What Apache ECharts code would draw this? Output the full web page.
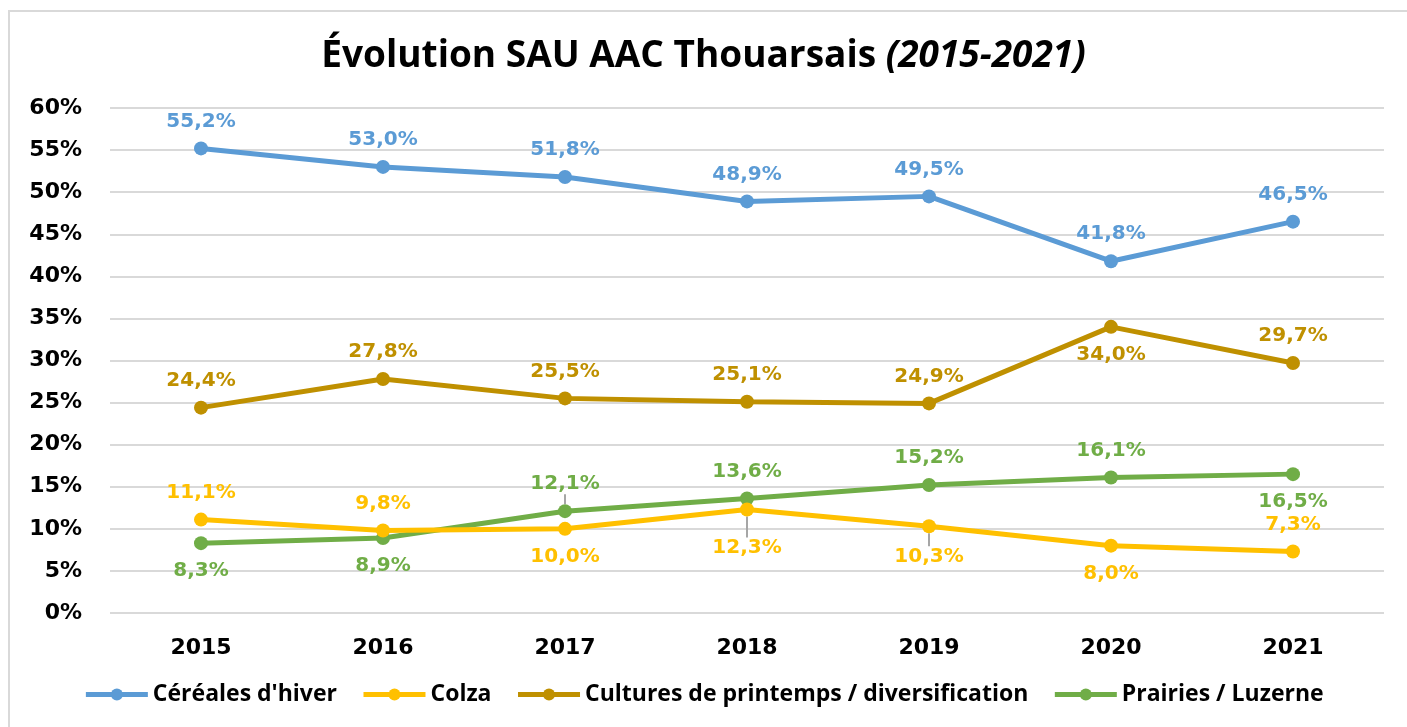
<!DOCTYPE html>
<html>
<head>
<meta charset="utf-8">
<script src="https://cdn.jsdelivr.net/npm/echarts@6/dist/echarts.min.js"></script>
<style>
  html, body { margin: 0; padding: 0; background: #fff; }
  #chart { width: 1407px; height: 727px; }
</style>
</head>
<body>
<div id="chart"></div>
<script>
// donnees
var annees = ['2015', '2016', '2017', '2018', '2019', '2020', '2021'];
var cereales = [55.2, 53.0, 51.8, 48.9, 49.5, 41.8, 46.5];
var colza = [11.1, 9.8, 10.0, 12.3, 10.3, 8.0, 7.3];
var cultures = [24.4, 27.8, 25.5, 25.1, 24.9, 34.0, 29.7];
var prairies = [8.3, 8.9, 12.1, 13.6, 15.2, 16.1, 16.5];
var yTicks = [0, 60, 5];

// position des etiquettes (t = dessus, b = dessous)
var place = [
    'ttttttt',
    'ttbbbbt',
    'tttttbt',
    'bbttttb'
];
// points avec trait de rappel : serie -> {point: decalage}
var leaders = { 1: { 3: 17, 4: 9 }, 3: { 2: -6 } };

var font = "'DejaVu Sans', Verdana, sans-serif";
var calibri = "'Liberation Sans Narrow', 'Open Sans', sans-serif";

function fmt(p) {
    return p.value.toFixed(1).replace('.', ',') + '%';
}

function makeSerie(name, data, color, idx) {
    var lead = leaders[idx] || {};
    return {
        name: name,
        type: 'line',
        data: data.map(function (v, i) {
            var top = place[idx][i] == 't';
            var isLead = lead[i] !== undefined;
            return {
                value: v,
                label: {
                    position: top ? 'top' : 'bottom',
                    distance: isLead ? 4 : (top ? 10 : 11)
                },
                labelLine: { show: isLead }
            };
        }),
        color: color,
        symbol: 'circle',
        symbolSize: 14,
        lineStyle: { width: 5, color: color },
        itemStyle: { color: color },
        label: {
            show: true,
            formatter: fmt,
            color: color,
            fontFamily: font,
            fontWeight: 'bold',
            fontSize: 20
        },
        labelLine: { show: false, lineStyle: { color: '#a6a6a6', width: 2 } },
        labelLayout: function (p) {
            if (lead[p.dataIndex] !== undefined) {
                return { dy: lead[p.dataIndex] };
            }
        },
        z: 10 - idx
    };
}

var myChart = echarts.init(document.getElementById('chart'));
var option = {
    animation: false,
    backgroundColor: '#fff',
    graphic: [{
        type: 'rect',
        shape: { x: 9, y: 11, width: 1420, height: 740 },
        style: { fill: 'none', stroke: '#d9d9d9', lineWidth: 2 },
        silent: true
    }],
    title: {
        text: '{a|Évolution SAU AAC Thouarsais }{b|(2015-2021)}',
        left: 'center',
        top: 33,
        textStyle: {
            rich: {
                a: { fontFamily: calibri, fontWeight: 'bold', fontSize: 37, color: '#000' },
                b: { fontFamily: calibri, fontWeight: 'bold', fontStyle: 'italic', fontSize: 37, color: '#000' }
            }
        }
    },
    legend: {
        bottom: 16,
        left: 'center',
        itemWidth: 62,
        itemHeight: 15,
        itemGap: 24,
        lineStyle: { width: 5 },
        textStyle: { fontFamily: calibri, fontWeight: 'bold', fontSize: 23, color: '#000' },
        data: ["Céréales d'hiver", 'Colza', 'Cultures de printemps / diversification', 'Prairies / Luzerne']
    },
    grid: { left: 110, right: 23, top: 108, bottom: 114 },
    xAxis: {
        type: 'category',
        data: annees,
        boundaryGap: true,
        axisLine: { show: false },
        axisTick: { show: false },
        axisLabel: { color: '#000', fontFamily: font, fontWeight: 'bold', fontSize: 22, margin: 24 }
    },
    yAxis: {
        type: 'value',
        min: yTicks[0],
        max: yTicks[1],
        interval: yTicks[2],
        axisLine: { show: false },
        axisTick: { show: false },
        splitLine: { lineStyle: { color: '#d9d9d9', width: 2 } },
        axisLabel: { color: '#000', fontFamily: font, fontWeight: 'bold', fontSize: 22, margin: 28, formatter: '{value}%' }
    },
    series: [
        makeSerie("Céréales d'hiver", cereales, '#5b9bd5', 0),
        makeSerie('Colza', colza, '#ffc000', 1),
        makeSerie('Cultures de printemps / diversification', cultures, '#bf9000', 2),
        makeSerie('Prairies / Luzerne', prairies, '#70ad47', 3)
    ]
};
myChart.setOption(option);
</script>
</body>
</html>
